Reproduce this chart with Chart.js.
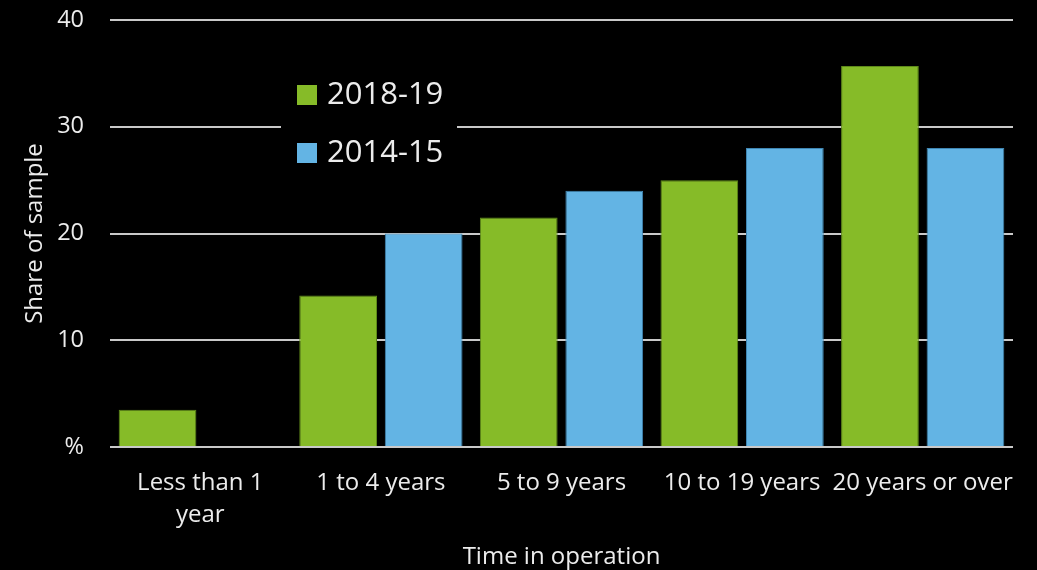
<!DOCTYPE html>
<html>
<head>
<meta charset="utf-8">
<script src="https://cdn.jsdelivr.net/npm/chart.js@4.4.1/dist/chart.umd.min.js"></script>
<style>
  html, body { margin: 0; padding: 0; background: #000; }
  #wrap { width: 1037px; height: 570px; position: relative; }
</style>
</head>
<body>
<div id="wrap"><canvas id="c"></canvas></div>
<script>
// Time in operation categories (multi-line where wrapped)
const categories = [['Less than 1', 'year'], '1 to 4 years', '5 to 9 years', '10 to 19 years', '20 years or over'];
const seriesNames = ['2018-19', '2014-15'];
const values2018 = [3.5, 14.2, 21.5, 25.0, 35.7];
const values2014 = [null, 20.0, 24.0, 28.0, 28.0];
const yTicks = [0, 10, 20, 30, 40];

const GREEN = '#86bb28';
const BLUE = '#63b4e4';
const TEXT = '#ececec';
const GRID = '#c9c9c9';
const FONT = "'Open Sans', 'Noto Sans', sans-serif";

// Legend panel drawn over the plot, with a black backing that breaks the gridline
const insetLegend = {
  id: 'insetLegend',
  afterDraw(chart) {
    const ctx = chart.ctx;
    const area = chart.chartArea;
    const x0 = area.left + 187, y0 = area.top + 52;
    ctx.save();
    ctx.fillStyle = '#000';
    ctx.fillRect(x0 - 16, y0 - 10, 176, 132);
    chart.data.datasets.forEach((ds, i) => {
      const y = y0 + 13 + i * 58;
      ctx.fillStyle = ds.backgroundColor;
      ctx.fillRect(x0, y, 20, 20);
      ctx.fillStyle = TEXT;
      ctx.font = '31px ' + FONT;
      ctx.textBaseline = 'middle';
      ctx.textAlign = 'left';
      ctx.fillText(ds.label, x0 + 30, y + 10);
    });
    ctx.restore();
  }
};

new Chart(document.getElementById('c'), {
  type: 'bar',
  data: {
    labels: categories,
    datasets: [
      { label: seriesNames[0], data: values2018, backgroundColor: GREEN, borderColor: '#5f8a1a', borderWidth: 1 },
      { label: seriesNames[1], data: values2014, backgroundColor: BLUE, borderColor: '#3f86b3', borderWidth: 1 }
    ]
  },
  options: {
    responsive: true,
    maintainAspectRatio: false,
    animation: false,
    layout: { padding: { left: 17, right: 24, top: 20, bottom: 0 } },
    datasets: { bar: { categoryPercentage: 0.947, barPercentage: 0.909 } },
    plugins: {
      legend: { display: false },
      tooltip: { enabled: false }
    },
    scales: {
      x: {
        grid: { display: false, drawTicks: false },
        border: { display: false },
        ticks: {
          color: TEXT,
          font: { family: FONT, size: 24, lineHeight: 1.35 },
          padding: 20,
          maxRotation: 0,
          autoSkip: false
        },
        title: {
          display: true,
          text: 'Time in operation',
          color: TEXT,
          font: { family: FONT, size: 24 },
          padding: { top: 4, bottom: -2 }
        },
        afterFit(scale) { scale.height = 123; }
      },
      y: {
        min: 0,
        max: 40,
        afterBuildTicks(scale) { scale.ticks = yTicks.map(v => ({ value: v })); },
        grid: { color: GRID, lineWidth: 2, drawTicks: false },
        border: { display: false },
        ticks: {
          color: TEXT,
          font: { family: FONT, size: 23.5 },
          padding: 26,
          callback: v => (v === 0 ? '%' : String(v))
        },
        title: {
          display: true,
          text: 'Share of sample',
          color: TEXT,
          font: { family: FONT, size: 24 },
          padding: { top: 4, bottom: 4 }
        },
        afterFit(scale) {
          scale.width = 93;
          scale.paddingTop = 0;
          scale.paddingBottom = 0;
        }
      }
    }
  },
  plugins: [insetLegend]
});
</script>
</body>
</html>
